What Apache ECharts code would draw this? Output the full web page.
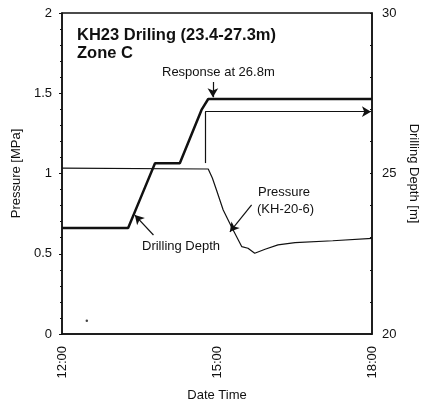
<!DOCTYPE html>
<html>
<head>
<meta charset="utf-8">
<script src="https://cdn.jsdelivr.net/npm/echarts@6/dist/echarts.min.js"></script>
<style>
  html, body { margin: 0; padding: 0; background: #fff; }
  #chart { width: 427px; height: 399px; }
</style>
</head>
<body>
<div id="chart"></div>
<script>
  // time in decimal hours, depth on the right axis [m]
  const depthTime = [12.0, 13.28, 13.55, 13.80, 14.28, 14.70, 14.83, 18.0]
  const depthValues = [23.3, 23.3, 24.35, 25.32, 25.32, 26.98, 27.32, 27.32]

  // pressure KH-20-6 [MPa]
  const pressureTime = [12.0, 14.83, 14.91, 14.99, 15.12, 15.28, 15.48, 15.60, 15.73, 15.93, 16.18, 16.51, 17.24, 18.0]
  const pressureValues = [1.033, 1.028, 0.972, 0.897, 0.773, 0.668, 0.544, 0.534, 0.503, 0.528, 0.555, 0.569, 0.581, 0.596]

  // stray dot near the origin
  const dotPoint = [12.48, 0.083]

  const timeTicks = ['12:00', '15:00', '18:00']

  const chart = echarts.init(document.getElementById('chart'))
  const txt = { fontFamily: 'Liberation Sans', color: '#111' }
  const font = 'Liberation Sans'

  chart.setOption({
    animation: false,
    grid: {
      left: 62, right: 55, top: 13, bottom: 65,
      outerBoundsMode: 'none', containLabel: false,
      show: true, borderColor: '#111', borderWidth: 1.5
    },
    xAxis: {
      type: 'value', min: 12, max: 18, interval: 3,
      name: 'Date Time', nameLocation: 'middle', nameGap: 55,
      nameTextStyle: Object.assign({ fontSize: 13 }, txt),
      axisLine: { lineStyle: { color: '#111', width: 1.5 } },
      axisTick: { show: false },
      splitLine: { show: false },
      axisLabel: Object.assign({
        rotate: 90, fontSize: 13, margin: 12,
        formatter: v => timeTicks[(v - 12) / 3]
      }, txt)
    },
    yAxis: [
      { // 左轴 压力
        type: 'value', min: 0, max: 2, interval: 0.5,
        name: 'Pressure [MPa]', nameLocation: 'middle', nameGap: 36,
        nameTextStyle: Object.assign({ fontSize: 13 }, txt),
        axisLine: { show: true, lineStyle: { color: '#111', width: 1.5 } },
        axisTick: { show: true, length: 3, lineStyle: { color: '#111' } },
        minorTick: { show: true, splitNumber: 5, length: 2, lineStyle: { color: '#111' } },
        splitLine: { show: false },
        axisLabel: Object.assign({ fontSize: 13, margin: 10 }, txt)
      },
      { // 右轴 钻孔深度
        type: 'value', min: 20, max: 30, interval: 5, position: 'right',
        name: 'Drilling Depth [m]', nameLocation: 'middle', nameGap: 30, nameRotate: -90,
        nameTextStyle: Object.assign({ fontSize: 13 }, txt),
        axisLine: { show: true, lineStyle: { color: '#111', width: 1.5 } },
        axisTick: { show: true, inside: true, length: 2, lineStyle: { color: '#111' } },
        minorTick: { show: true, splitNumber: 5, length: 2, lineStyle: { color: '#111' } },
        splitLine: { show: false },
        axisLabel: Object.assign({ fontSize: 13, margin: 10 }, txt)
      }
    ],
    series: [
      {
        type: 'line', name: 'Drilling Depth', yAxisIndex: 1,
        data: depthTime.map((t, i) => [t, depthValues[i]]),
        symbol: 'none',
        lineStyle: { color: '#111', width: 2.5 }
      },
      {
        type: 'line', name: 'Pressure', yAxisIndex: 0,
        data: pressureTime.map((t, i) => [t, pressureValues[i]]),
        symbol: 'none',
        lineStyle: { color: '#111', width: 1.2 },
        markLine: { // 标注线
          silent: true, animation: false,
          symbol: 'none',
          lineStyle: { color: '#111', width: 1.2, type: 'solid' },
          label: { show: false },
          data: [
            [{ coord: [14.77, 1.065] }, { coord: [14.77, 1.385] }]
          ]
        }
      },
      {
        // arrows: bracket and pointers
        type: 'line', yAxisIndex: 0, data: [],
        markLine: {
          silent: true, animation: false,
          symbol: ['none', 'arrow'], symbolSize: [8, 9],
          lineStyle: { color: '#111', width: 1.2, type: 'solid' },
          itemStyle: { color: '#111' },
          label: { show: false },
          data: [
            [{ coord: [14.77, 1.385] }, { coord: [17.98, 1.385] }],
            [{ coord: [14.92, 1.57] }, { coord: [14.92, 1.475] }],
            [{ coord: [13.77, 0.617] }, { coord: [13.41, 0.741] }],
            [{ coord: [15.67, 0.804] }, { coord: [15.25, 0.637] }]
          ]
        }
      },
      {
        type: 'scatter', yAxisIndex: 0,
        data: [dotPoint], symbolSize: 2.5,
        itemStyle: { color: '#111' }
      }
    ],
    graphic: [
      { type: 'text', left: 77, top: 27, style: { text: 'KH23 Driling (23.4-27.3m)', fontSize: 16.5, fontWeight: 'bold', fontFamily: font, fill: '#111' } },
      { type: 'text', left: 77, top: 45, style: { text: 'Zone C', fontSize: 16.5, fontWeight: 'bold', fontFamily: font, fill: '#111' } },
      { type: 'text', left: 162, top: 66, style: { text: 'Response at 26.8m', fontSize: 13, fontFamily: font, fill: '#111' } },
      { type: 'text', left: 258, top: 186, style: { text: 'Pressure', fontSize: 13, fontFamily: font, fill: '#111' } },
      { type: 'text', left: 257, top: 203, style: { text: '(KH-20-6)', fontSize: 13, fontFamily: font, fill: '#111' } },
      { type: 'text', left: 142, top: 240, style: { text: 'Drilling Depth', fontSize: 13, fontFamily: font, fill: '#111' } }
    ]
  })
</script>
</body>
</html>
